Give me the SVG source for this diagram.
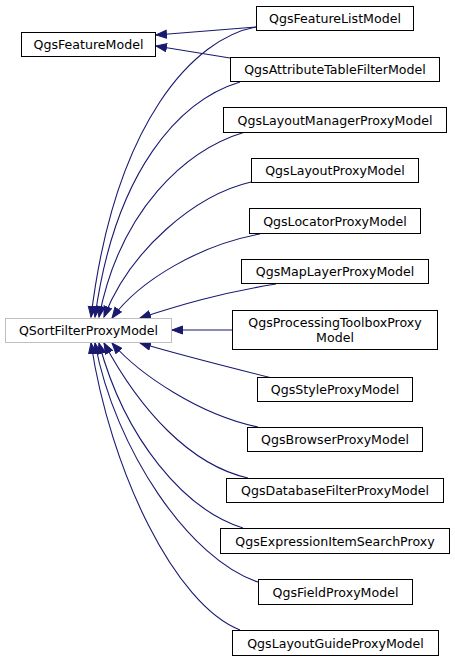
<svg xmlns="http://www.w3.org/2000/svg" width="455" height="661" viewBox="0 0 455 661">
<style>
.n rect{fill:#fff;stroke:#000;stroke-width:1}
.g rect{stroke:#bfbfbf}
text{font-family:"DejaVu Sans",sans-serif;font-size:12.6px;text-anchor:middle;fill:#000}
.e path{fill:none;stroke:#191970;stroke-width:1.1}
</style>
<defs>
<marker id="a" markerUnits="userSpaceOnUse" markerWidth="14" markerHeight="10" refX="11" refY="4.5" orient="auto" viewBox="0 0 14 10">
<path d="M0.5,0.5 L11,4.5 L0.5,8.5 z" fill="#191970" stroke="#191970"/>
</marker>
</defs>
<g class="e" id="edges">
<path marker-end="url(#a)" d="M256,27 L156,35"/>
<path marker-end="url(#a)" d="M230,58 L156,46"/>
<path marker-end="url(#a)" d="M256,27 C195,38 115,120 91,317"/>
<path marker-end="url(#a)" d="M240,82 C180,100 115,170 95,317"/>
<path marker-end="url(#a)" d="M245,132 C185,150 120,210 99,317"/>
<path marker-end="url(#a)" d="M251,182 C195,195 130,250 104,317"/>
<path marker-end="url(#a)" d="M260,234 C200,245 140,280 112,318"/>
<path marker-end="url(#a)" d="M276,284 C220,293 180,305 140,318"/>
<path marker-end="url(#a)" d="M232,330 L172,330"/>
<path marker-end="url(#a)" d="M272,378 C220,365 180,355 140,343"/>
<path marker-end="url(#a)" d="M258,427 C200,415 140,375 112,343"/>
<path marker-end="url(#a)" d="M248,478 C190,465 140,410 104,343"/>
<path marker-end="url(#a)" d="M243,528 C185,510 125,440 99,343"/>
<path marker-end="url(#a)" d="M258,582 C190,560 115,450 95,343"/>
<path marker-end="url(#a)" d="M240,630 C175,605 110,470 91,343"/>
</g>
<g class="n" id="QgsFeatureModel"><rect x="21.5" y="32.5" width="134" height="24"/><text x="88.5" y="49">QgsFeatureModel</text></g>
<g class="n g" id="QSortFilterProxyModel"><rect x="5.5" y="318.5" width="166" height="24"/><text x="88.5" y="335">QSortFilterProxyModel</text></g>
<g class="n" id="QgsFeatureListModel"><rect x="256.5" y="6.5" width="157" height="24"/><text x="335" y="23">QgsFeatureListModel</text></g>
<g class="n" id="QgsAttributeTableFilterModel"><rect x="230.5" y="57.5" width="209" height="24"/><text x="335" y="74">QgsAttributeTableFilterModel</text></g>
<g class="n" id="QgsLayoutManagerProxyModel"><rect x="223.5" y="107.5" width="223" height="25"/><text x="335" y="124.5">QgsLayoutManagerProxyModel</text></g>
<g class="n" id="QgsLayoutProxyModel"><rect x="251.5" y="158.5" width="167" height="24"/><text x="335" y="175">QgsLayoutProxyModel</text></g>
<g class="n" id="QgsLocatorProxyModel"><rect x="249.5" y="208.5" width="171" height="25"/><text x="335" y="225.5">QgsLocatorProxyModel</text></g>
<g class="n" id="QgsMapLayerProxyModel"><rect x="241.5" y="259.5" width="187" height="24"/><text x="335" y="276">QgsMapLayerProxyModel</text></g>
<g class="n" id="QgsProcessingToolboxProxyModel"><rect x="232.5" y="310.5" width="205" height="39"/><text x="335" y="327">QgsProcessingToolboxProxy</text><text x="335" y="342">Model</text></g>
<g class="n" id="QgsStyleProxyModel"><rect x="257.5" y="377.5" width="155" height="24"/><text x="335" y="394">QgsStyleProxyModel</text></g>
<g class="n" id="QgsBrowserProxyModel"><rect x="247.5" y="427.5" width="175" height="24"/><text x="335" y="444">QgsBrowserProxyModel</text></g>
<g class="n" id="QgsDatabaseFilterProxyModel"><rect x="226.5" y="478.5" width="217" height="24"/><text x="335" y="495">QgsDatabaseFilterProxyModel</text></g>
<g class="n" id="QgsExpressionItemSearchProxy"><rect x="220.5" y="528.5" width="229" height="25"/><text x="335" y="545.5">QgsExpressionItemSearchProxy</text></g>
<g class="n" id="QgsFieldProxyModel"><rect x="258.5" y="579.5" width="154" height="25"/><text x="335.5" y="596.5">QgsFieldProxyModel</text></g>
<g class="n" id="QgsLayoutGuideProxyModel"><rect x="232.5" y="630.5" width="206" height="25"/><text x="335.5" y="647.5">QgsLayoutGuideProxyModel</text></g>
</svg>
